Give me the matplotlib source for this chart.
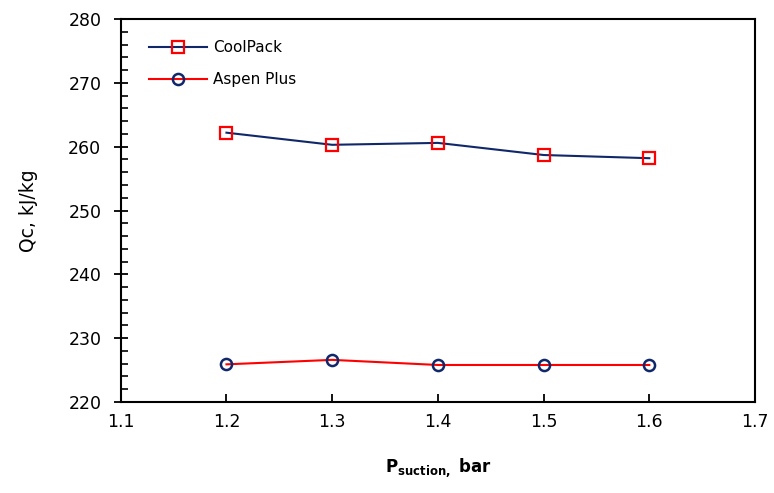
import matplotlib
matplotlib.use("Agg")
import matplotlib.pyplot as plt
from matplotlib.ticker import MultipleLocator

p_suction = [1.2, 1.3, 1.4, 1.5, 1.6]
coolpack = [262.2, 260.3, 260.6, 258.7, 258.2]
aspen = [225.9, 226.6, 225.8, 225.8, 225.8]

plt.rcParams['font.family'] = ['DejaVu Sans']
plt.rcParams['mathtext.fontset'] = 'dejavusans'

fig = plt.figure(figsize=(7.74, 4.93), dpi=100)
ax = fig.add_axes([0.156, 0.1846, 0.8195, 0.7767])

navy = '#10286a'
red = '#ff0000'
ax.plot(p_suction, coolpack, color=navy, lw=1.5, marker='s', ms=8,
        mfc='none', mec=red, mew=1.6, label='CoolPack')
ax.plot(p_suction, aspen, color=red, lw=1.5, marker='o', ms=8,
        mfc='none', mec=navy, mew=1.8, label='Aspen Plus')

ax.set_xlim(1.1, 1.7)
ax.set_ylim(220, 280)
ax.xaxis.set_major_locator(MultipleLocator(0.1))
ax.yaxis.set_major_locator(MultipleLocator(10))
ax.yaxis.set_minor_locator(MultipleLocator(2))
ax.tick_params(axis='x', which='major', direction='in', length=6, width=1.3, labelsize=12.5, pad=8)
ax.tick_params(axis='y', which='major', direction='inout', length=10, width=1.3, labelsize=12.5, pad=9)
ax.tick_params(axis='y', which='minor', direction='in', length=5, width=1.2)
ax.xaxis.set_major_formatter(matplotlib.ticker.FormatStrFormatter('%.1f'))
for s in ax.spines.values():
    s.set_linewidth(1.5)

ax.set_xlabel(r'$\mathbf{P_{suction,}}$ bar', fontsize=12, fontweight='bold', labelpad=18)
ax.set_ylabel('Qc, kJ/kg', fontsize=13.5, labelpad=22)

ax.legend(loc='upper left', frameon=False, fontsize=11, handlelength=3.8,
          handletextpad=0.4, borderaxespad=0.6, labelspacing=1.1,
          bbox_to_anchor=(0.02, 0.985))

fig.savefig('out.png', dpi=100)
